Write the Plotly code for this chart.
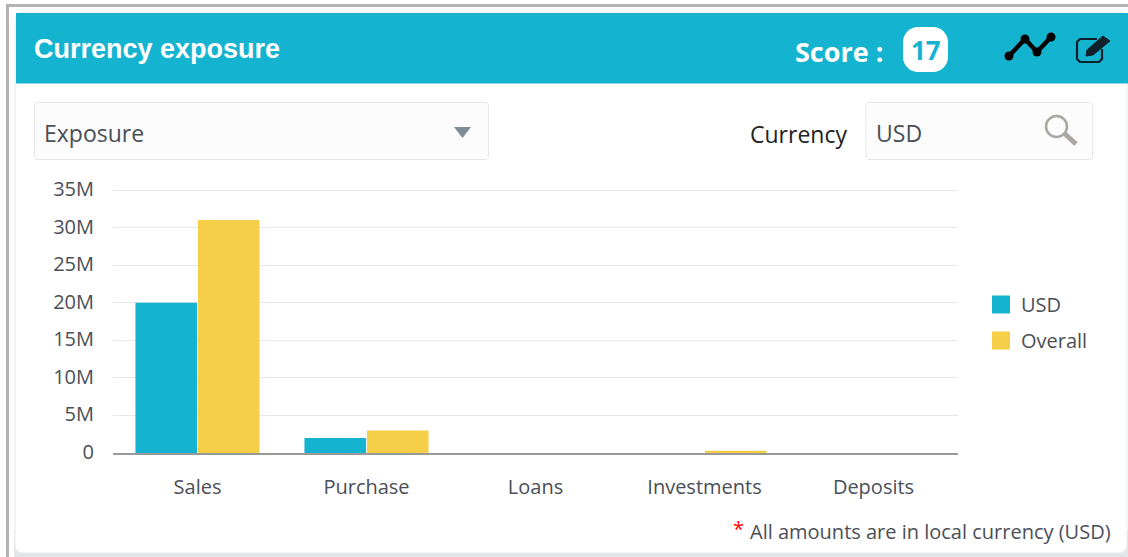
import plotly.graph_objects as go

categories = ["Sales", "Purchase", "Loans", "Investments", "Deposits"]
usd_values = [20000000, 2000000, 0, 0, 0]
overall_values = [31000000, 3000000, 0, 300000, 0]
y_ticks = [0, 5000000, 10000000, 15000000, 20000000, 25000000, 30000000, 35000000]
y_labels = ["0", "5M", "10M", "15M", "20M", "25M", "30M", "35M"]
y_top = 35266000

TEAL = "#14b4d0"
YELLOW = "#f5cf47"
W, H = 1128, 557
L, R, T, B = 113, 958, 188, 453
BODY = "Open Sans, Noto Sans, sans-serif"
HEAD = "Liberation Sans, Arial, sans-serif"
TXT = "#4a4f57"


def px(x):
    return (x - L) / (R - L)


def py(y):
    return (B - y) / (B - T)


def rect(x0, y0, x1, y1, fill, line=None, lw=1):
    return dict(type="rect", xref="paper", yref="paper", layer="below",
                x0=px(x0), x1=px(x1), y0=py(y0), y1=py(y1),
                fillcolor=fill, line=dict(color=line or fill, width=lw if line else 0))


def path(points, close=False, fill=None, line="#000", lw=2):
    d = "M" + " L".join(f"{px(a):.5f},{py(b):.5f}" for a, b in points) + (" Z" if close else "")
    return dict(type="path", xref="paper", yref="paper", path=d, layer="above",
                fillcolor=fill or "rgba(0,0,0,0)",
                line=dict(color=line, width=lw))


def rounded(x0, y0, x1, y1, r, fill, line=None, lw=1, layer="below"):
    k = 0.45 * r
    P = lambda a, b: f"{px(a):.5f},{py(b):.5f}"
    d = (f"M{P(x0 + r, y0)} L{P(x1 - r, y0)} C{P(x1 - k, y0)} {P(x1, y0 + k)} {P(x1, y0 + r)} "
         f"L{P(x1, y1 - r)} C{P(x1, y1 - k)} {P(x1 - k, y1)} {P(x1 - r, y1)} "
         f"L{P(x0 + r, y1)} C{P(x0 + k, y1)} {P(x0, y1 - k)} {P(x0, y1 - r)} "
         f"L{P(x0, y0 + r)} C{P(x0, y0 + k)} {P(x0 + k, y0)} {P(x0 + r, y0)} Z")
    return dict(type="path", xref="paper", yref="paper", path=d, layer=layer, fillcolor=fill,
                line=dict(color=line or fill, width=lw if line else 0))


def dot(x, y, r, fill):
    return dict(type="circle", xref="paper", yref="paper", layer="above",
                x0=px(x - r), x1=px(x + r), y0=py(y + r), y1=py(y - r),
                fillcolor=fill, line=dict(width=0))


def text(x, y, s, size, color=TXT, family=BODY, anchor="left", bold=False):
    return dict(xref="paper", yref="paper", x=px(x), y=py(y), text=f"<b>{s}</b>" if bold else s,
                showarrow=False, xanchor=anchor, yanchor="middle", xshift=0, yshift=0, borderpad=0,
                font=dict(size=size, color=color, family=family))


shapes = [
    rect(6, 4, 1128, 7, "#b3b3b3"),
    rect(6, 4, 9, 557, "#b3b3b3"),
    rect(9, 7, 1128, 557, "#ffffff"),
    rect(14, 530, 1128, 557, "#e3e6e9"),
    rounded(15, 12, 1127, 553, 8, "#ffffff", "#e8ebee", 1),
    rect(16, 13, 1128, 83.5, TEAL),
    rounded(34.5, 102.5, 488.5, 159.5, 3, "#fcfcfc", "#e6e6e6", 1),
    rounded(866, 102.5, 1092.5, 159.5, 3, "#fcfcfc", "#e6e6e6", 1),
    path([(454, 127), (471, 127), (462.5, 138)], True, "#7f8c95", "#7f8c95", 0),
    rounded(903, 27, 948, 72, 15, "#ffffff", layer="above"),
    path([(1009, 56), (1025, 39), (1037, 52), (1051, 37)], line="#000000", lw=4.5),
    dot(1009, 56, 4.5, "#000000"), dot(1025, 39, 4.5, "#000000"),
    dot(1037, 52, 4.5, "#000000"), dot(1051, 37, 4.5, "#000000"),
    path([(1097, 39), (1080, 39), (1077, 42), (1077, 59), (1080, 62), (1099, 62), (1102, 59), (1102, 49)],
         line="#10202a", lw=2.2),
    path([(1086, 56), (1087, 50), (1103, 36), (1110, 41), (1093, 55)], True, "#10202a", "#10202a", 1),
    dict(type="circle", xref="paper", yref="paper", layer="above",
         x0=px(1046), x1=px(1067), y0=py(137), y1=py(116), fillcolor="rgba(0,0,0,0)",
         line=dict(color="#aaa6a0", width=2.5)),
    path([(1065, 134), (1076, 144)], line="#aaa6a0", lw=5),
]

annotations = [
    text(33, 49, "Currency exposure", 27, "#ffffff", HEAD, bold=True),
    text(794, 52, "Score :", 27, "#ffffff", BODY, bold=True),
    text(925.5, 50, "17", 26, TEAL, BODY, "center", True),
    text(43, 133, "Exposure", 23, TXT),
    text(749, 134, "Currency", 23, "#222222"),
    text(875, 133, "USD", 23, TXT),
    text(732, 528, "*", 20, "#ff0000"),
    text(749, 531, "All amounts are in local currency (USD)", 20, TXT),
]

fig = go.Figure()
fig.add_bar(name="USD", x=categories, y=usd_values, legendgroup="usd",
            marker=dict(color=TEAL, line=dict(width=0)))
fig.add_bar(name="Overall", x=categories, y=overall_values, legendgroup="overall",
            marker=dict(color=YELLOW, line=dict(width=0)))

fig.update_layout(
    width=W, height=H, autosize=False,
    margin=dict(l=L, r=W - R, t=T, b=H - B, pad=0),
    paper_bgcolor="#ffffff", plot_bgcolor="rgba(0,0,0,0)",
    barmode="group", bargap=0.26, bargroupgap=0.015,
    font=dict(family=BODY, size=20, color=TXT),
    shapes=shapes, annotations=annotations,
    hovermode=False,
    legend=dict(x=px(981), y=py(285), xanchor="left", yanchor="top",
                bgcolor="rgba(0,0,0,0)", font=dict(size=20, color=TXT), tracegroupgap=7,
                itemclick=False, itemdoubleclick=False),
)
fig.update_xaxes(type="category", showgrid=False, showline=True, linecolor="#999999", linewidth=2,
                 ticks="", ticklabelstandoff=15, tickfont=dict(size=20, color=TXT), zeroline=False)
fig.update_yaxes(range=[0, y_top], tickmode="array", tickvals=y_ticks, ticktext=y_labels,
                 showgrid=True, gridcolor="#e6e6e6", gridwidth=1, zeroline=False, showline=False,
                 ticks="", tickfont=dict(size=20, color=TXT), ticklabelstandoff=18, ticklabelshift=-1)

post = """
document.documentElement.style.margin='0';document.body.style.margin='0';
document.body.style.overflow='hidden';
document.querySelectorAll('.legendpoints path').forEach(function(p){
  var t=p.getAttribute('transform')||'';p.setAttribute('transform',t+' scale(1.5)');
});
"""
fig.write_html("out.html", post_script=post, config=dict(displayModeBar=False))
